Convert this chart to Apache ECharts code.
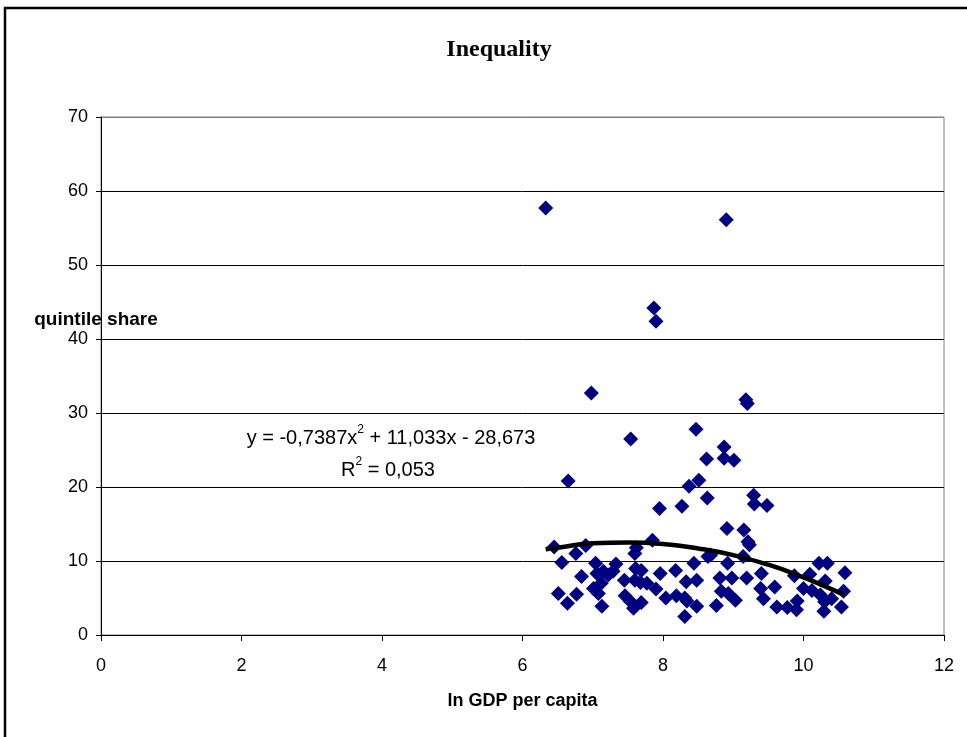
<!DOCTYPE html>
<html>
<head>
<meta charset="utf-8">
<script src="https://cdn.jsdelivr.net/npm/echarts@6/dist/echarts.min.js"></script>
<style>
html,body{margin:0;padding:0;background:#fff;}
#chart{width:967px;height:737px;}
</style>
</head>
<body>
<div id="chart"></div>
<script>
// ln GDP per capita (x) and quintile share (y)
var lnGdp = [6.33, 8.90, 7.87, 7.90, 6.98, 9.18, 9.20, 8.47, 7.54, 8.87,
  8.62, 8.87, 9.01, 6.65, 8.51, 8.37, 8.63, 9.29, 9.30, 9.48,
  7.95, 8.27, 8.91, 9.15, 9.21, 9.23, 6.45, 6.56, 6.76, 6.90,
  6.51, 6.64, 6.77, 6.84, 7.04, 7.06, 7.01, 7.12, 7.13, 7.15,
  7.08, 7.33, 7.29, 7.22, 7.45, 7.46, 7.53, 7.58, 7.60, 7.62,
  7.61, 7.69, 7.60, 7.68, 7.69, 7.77, 7.85, 7.96, 7.90, 8.04,
  8.18, 8.19, 8.33, 8.31, 8.34, 8.31, 8.44, 8.48, 8.48, 8.64,
  8.68, 8.92, 8.81, 8.98, 8.83, 8.93, 9.03, 8.76, 9.14, 9.19,
  9.40, 9.39, 9.43, 9.59, 9.62, 9.77, 9.87, 9.91, 9.90, 10.09,
  10.00, 10.12, 10.22, 10.34, 10.31, 10.24, 10.30, 10.29, 10.40, 10.54,
  10.57, 10.59];
var quintileShare = [57.7, 56.1, 44.2, 42.4, 32.7, 31.8, 31.3, 27.8, 26.5, 25.4,
  23.8, 23.9, 23.6, 20.8, 20.9, 20.1, 18.5, 18.9, 17.7, 17.5,
  17.1, 17.4, 14.4, 14.2, 12.6, 12.2, 11.9, 9.8, 11.0, 12.1,
  5.6, 4.3, 5.5, 7.9, 9.7, 8.3, 6.3, 7.0, 3.9, 8.6,
  5.6, 9.6, 8.6, 8.1, 7.4, 5.3, 4.6, 3.6, 11.0, 11.8,
  9.0, 8.7, 7.4, 7.1, 4.4, 7.0, 12.8, 8.3, 6.2, 5.0,
  8.7, 5.3, 7.2, 2.5, 4.6, 5.0, 9.7, 7.4, 3.9, 10.6,
  10.8, 9.7, 7.7, 7.7, 5.9, 5.6, 4.7, 4.0, 10.6, 7.7,
  8.3, 6.3, 4.9, 6.5, 3.8, 3.7, 8.0, 4.6, 3.4, 8.2,
  6.3, 6.0, 9.7, 9.7, 7.3, 5.4, 4.5, 3.2, 4.9, 3.8,
  5.9, 8.4];
// polynomial trend line
var trendX = [6.33, 6.5, 7.0, 7.5, 8.0, 8.5, 9.0, 9.5, 10.0, 10.3, 10.58];
var trendY = [11.6, 11.8, 12.4, 12.5, 12.3, 11.7, 10.8, 9.5, 7.8, 6.6, 5.4];
var xTicks = [0, 2, 4, 6, 8, 10, 12];
var yTicks = [0, 10, 20, 30, 40, 50, 60, 70];

var scatterData = lnGdp.map(function (x, i) { return [x, quintileShare[i]]; });
var trendData = trendX.map(function (x, i) { return [x, trendY[i]]; });

var chart = echarts.init(document.getElementById('chart'), null, {renderer: 'canvas'});
var font = 'Liberation Sans, Arial, sans-serif';
chart.setOption({
  animation: false,
  backgroundColor: '#fff',
  title: {
    text: 'Inequality',
    left: 494, top: 33, textAlign: 'center',
    textStyle: {fontFamily: 'Liberation Serif, Times New Roman, serif', fontWeight: 'bold', fontSize: 24, color: '#000'}
  },
  grid: {left: 101, top: 117, right: 23, bottom: 102, show: true, borderColor: '#808080', borderWidth: 1, backgroundColor: '#fff'},
  xAxis: {
    type: 'value', min: xTicks[0], max: xTicks[xTicks.length - 1], interval: 2,
    axisLine: {show: true, lineStyle: {color: '#000', width: 1}},
    axisTick: {show: true, inside: false, length: 6, lineStyle: {color: '#000'}},
    axisLabel: {margin: 22, fontFamily: font, fontSize: 18, color: '#000'},
    splitLine: {show: false},
    name: 'ln GDP per capita', nameLocation: 'middle', nameGap: 57,
    nameTextStyle: {fontFamily: font, fontWeight: 'bold', fontSize: 18, color: '#000'}
  },
  yAxis: {
    type: 'value', min: yTicks[0], max: yTicks[yTicks.length - 1], interval: 10,
    axisLine: {show: true, lineStyle: {color: '#000', width: 1}},
    axisTick: {show: true, inside: false, length: 5, lineStyle: {color: '#000'}},
    axisLabel: {margin: 13, fontFamily: font, fontSize: 18, color: '#000'},
    splitLine: {show: true, lineStyle: {color: ['#000', '#000', '#000', '#000', '#000', '#000', '#000', '#808080'], width: 1}}
  },
  graphic: [
    {type: 'rect', shape: {x: 5, y: 8, width: 1000, height: 800}, style: {fill: 'none', stroke: '#000', lineWidth: 2.5}, silent: true, z: 100},
    {type: 'text', x: 96, y: 320, style: {text: 'quintile share', fontFamily: font, fontWeight: 'bold', fontSize: 19, fill: '#000', textAlign: 'center', textVerticalAlign: 'middle'}, z: 100},
    {type: 'text', x: 391, y: 435, style: {
      text: '{n|y = -0,7387x}{s|2}{n| + 11,033x - 28,673}',
      textAlign: 'center', textVerticalAlign: 'middle',
      rich: {
        n: {fontFamily: font, fontSize: 20, fill: '#000', lineHeight: 26, verticalAlign: 'bottom'},
        s: {fontFamily: font, fontSize: 12, fill: '#000', lineHeight: 26, verticalAlign: 'top', padding: [2, 0, 0, 0]}
      }}, z: 100},
    {type: 'text', x: 388, y: 467, style: {
      text: '{n|R}{s|2}{n| = 0,053}',
      textAlign: 'center', textVerticalAlign: 'middle',
      rich: {
        n: {fontFamily: font, fontSize: 20, fill: '#000', lineHeight: 26, verticalAlign: 'bottom'},
        s: {fontFamily: font, fontSize: 12, fill: '#000', lineHeight: 26, verticalAlign: 'top', padding: [2, 0, 0, 0]}
      }}, z: 100}
  ],
  series: [
    {
      type: 'scatter', data: scatterData, symbol: 'diamond', symbolSize: 15,
      itemStyle: {color: '#000080', opacity: 1}, z: 2
    },
    {
      type: 'line', data: trendData, smooth: true, symbol: 'none',
      lineStyle: {color: '#000', width: 4.5}, z: 3
    }
  ]
});
</script>
</body>
</html>
